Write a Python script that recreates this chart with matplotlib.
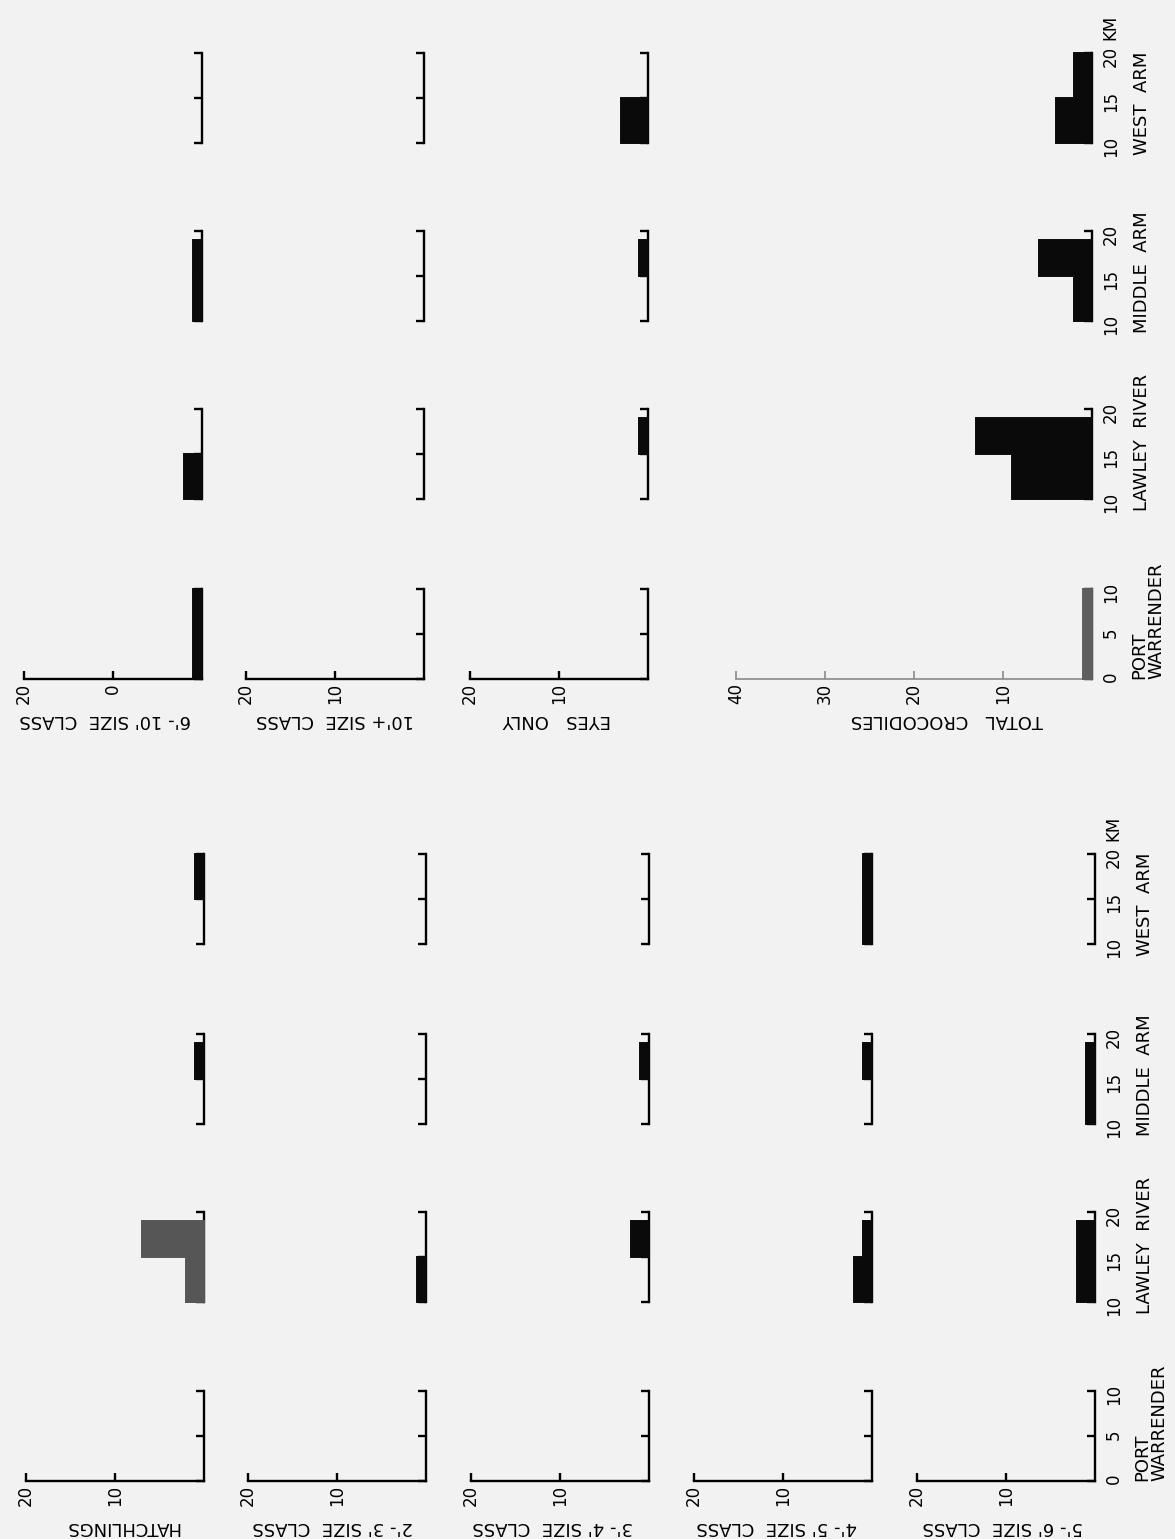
import matplotlib
matplotlib.use("Agg")
import matplotlib.pyplot as plt
import numpy as np

# ---------------- data ----------------
locations = ["PORT\nWARRENDER", "LAWLEY  RIVER", "MIDDLE  ARM", "WEST  ARM"]
km_limits = [(0, 10), (10, 20), (10, 20), (10, 20)]
km_edges = [[0, 10], [10, 15, 19], [10, 15, 19], [10, 15, 20]]
km_ticks = [[0, 5, 10], [10, 15, 20], [10, 15, 20], [10, 15, 20]]
km_tick_labels = [["0", "5", "10"], ["10", "15", "20"], ["10", "15", "20"], ["10", "15", "20"]]

# counts per location (PW, LR, MA, WA), one value per km bin
hatchlings = [[0], [2, 7], [0, 1], [0, 1]]
size_2_3 = [[0], [1, 0], [0, 0], [0, 0]]
size_3_4 = [[0], [0, 2], [0, 1], [0, 0]]
size_4_5 = [[0], [2, 1], [0, 1], [1, 1]]
size_5_6 = [[0], [2, 2], [1, 1], [0, 0]]
size_6_10 = [[1], [2, 0], [1, 1], [0, 0]]
size_10_plus = [[0], [0, 0], [0, 0], [0, 0]]
eyes_only = [[0], [0, 1], [0, 1], [3, 0]]
total_crocodiles = [[1], [9, 13], [2, 6], [4, 2]]

left_names = ["HATCHLINGS", "2'- 3' SIZE  CLASS", "3'- 4' SIZE  CLASS",
              "4'- 5' SIZE  CLASS", "5'- 6' SIZE  CLASS"]
left_data = [hatchlings, size_2_3, size_3_4, size_4_5, size_5_6]
right_names = ["6'- 10' SIZE  CLASS", "10'+ SIZE  CLASS", "EYES   ONLY", "TOTAL   CROCODILES"]
right_data = [size_6_10, size_10_plus, eyes_only, total_crocodiles]

count_ticks = [10, 20]
count_labels = ["10", "20"]
count_labels_6_10 = ["0", "20"]
total_ticks = [10, 20, 30, 40]
total_labels = ["10", "20", "30", "40"]

# ---------------- layout (pixels) ----------------
W, H = 1175, 1539
CNT_PX = 8.9   # px per crocodile
KM_PX = 9.0    # px per km
LW = 1.7

fig = plt.figure(figsize=(W / 100, H / 100), dpi=100, facecolor="#f2f2f2")
plt.rcParams["font.family"] = ["DejaVu Sans"]


def fx(px):
    return px / W


def fy(py):
    return 1 - py / H


def panel(bx, y0, loc, counts, cmax, show_km, xt, xtl, bar_color="#0a0a0a",
          axis_color="black", axis_lw=LW):
    lo, hi = km_limits[loc]
    h = (hi - lo) * KM_PX
    w = cmax * CNT_PX
    ax = fig.add_axes([fx(bx - w), (H - y0) / H, w / W, h / H])
    ax.set_xlim(cmax, 0)
    ax.set_ylim(lo, hi)
    ax.patch.set_visible(False)
    for s in ["top", "left"]:
        ax.spines[s].set_visible(False)
    ax.spines["right"].set_linewidth(LW)
    is_pw = loc == 0
    ax.spines["bottom"].set_visible(is_pw)
    ax.spines["bottom"].set_linewidth(axis_lw)
    ax.spines["bottom"].set_color(axis_color)
    ax.yaxis.tick_right()
    ax.set_yticks(km_ticks[loc])
    if show_km:
        ax.set_yticklabels(km_tick_labels[loc])
    else:
        ax.set_yticklabels([])
    ax.tick_params(axis="y", direction="in", length=6, width=LW, labelsize=12,
                   labelrotation=90, pad=7, right=True, labelright=show_km)
    if is_pw:
        ax.set_xticks(xt)
        ax.set_xticklabels(xtl)
        ax.tick_params(axis="x", direction="in", length=6, width=axis_lw,
                       color=axis_color, labelsize=12, labelrotation=90, pad=3)
    else:
        ax.set_xticks([])
    edges = km_edges[loc]
    vals = np.asarray(counts, dtype=float)
    ax.barh(edges[:-1], vals, height=np.diff(edges), align="edge",
            color=bar_color, edgecolor=[bar_color if v > 0 else "none" for v in vals],
            linewidth=1.4, zorder=3, clip_on=False)
    return ax


def location_labels(bx, y_bottoms):
    for loc, name in enumerate(locations):
        yb = y_bottoms[loc]
        if loc == 0:
            fig.text(fx(bx + 56), fy(yb), name, rotation=90, ha="center", va="bottom",
                     fontsize=13, multialignment="left", linespacing=0.95)
        else:
            start = yb + 1.3 * KM_PX
            fig.text(fx(bx + 50), fy(start), name, rotation=90, ha="center",
                     va="bottom", fontsize=13)
    # "KM" after the last tick label of West Arm
    y20 = y_bottoms[3] - 10 * KM_PX
    fig.text(fx(bx + 18), fy(y20 - 13), "KM", rotation=90, ha="center",
             va="bottom", fontsize=12)


# ---- lower half (left half of original page) ----
low_bx = [204, 426, 649, 872, 1095]
low_y = [1481, 1302, 1124, 944]
low_name_x = [122, 333, 553, 777, 1003]
for c in range(5):
    last = c == 4
    for loc in range(4):
        color = "#565656" if (c == 0 and loc == 1) else "#0a0a0a"
        panel(low_bx[c], low_y[loc], loc, left_data[c][loc], 20, last,
              count_ticks, count_labels, bar_color=color)
    fig.text(fx(low_name_x[c]), fy(1527), left_names[c], rotation=180,
             ha="center", va="center", fontsize=13)
location_labels(low_bx[4], low_y)

# ---- upper half (right half of original page) ----
up_bx = [202, 424, 648, 1092]
up_y = [679, 499, 321, 143]
up_name_x = [105, 335, 557, 947]
for c in range(4):
    is_total = c == 3
    for loc in range(4):
        if is_total:
            color = "#5e5e5e" if loc == 0 else "#0a0a0a"
            panel(up_bx[c], up_y[loc], loc, right_data[c][loc], 40, True,
                  total_ticks, total_labels, bar_color=color,
                  axis_color="#8a8a8a", axis_lw=1.2)
        else:
            labels = count_labels_6_10 if c == 0 else count_labels
            panel(up_bx[c], up_y[loc], loc, right_data[c][loc], 20, False,
                  count_ticks, labels)
    fig.text(fx(up_name_x[c]), fy(720), right_names[c], rotation=180,
             ha="center", va="center", fontsize=13)
location_labels(up_bx[3], up_y)

fig.savefig("out.png", dpi=100, facecolor=fig.get_facecolor())
